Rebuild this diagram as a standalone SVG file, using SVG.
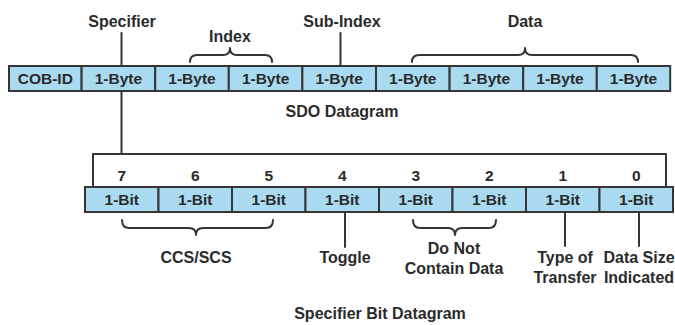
<svg xmlns="http://www.w3.org/2000/svg" width="675" height="325" viewBox="0 0 675 325">
  <style>
    .cell { fill: #a9daf0; stroke: #353535; stroke-width: 2; }
    .t { font-family: "Liberation Sans", Arial, sans-serif; font-weight: bold; font-size: 16px; fill: #2b2b2b; text-anchor: middle; }
    .c { font-size: 15.5px; }
    .ln { fill: none; stroke: #353535; stroke-width: 2; stroke-linecap: round; stroke-linejoin: round; }
  </style>
  <rect width="675" height="325" fill="#ffffff"/>

  <!-- SDO datagram: byte fields -->
  <g id="sdo-datagram">
    <g id="cob-id"><rect class="cell" x="9" y="66" width="72.6" height="25"/><text class="t c" x="45.3" y="84">COB-ID</text></g>
    <g id="byte-specifier"><rect class="cell" x="81.6" y="66" width="73.6" height="25"/><text class="t c" x="118.4" y="84">1-Byte</text></g>
    <g id="byte-index-1"><rect class="cell" x="155.2" y="66" width="73.6" height="25"/><text class="t c" x="192" y="84">1-Byte</text></g>
    <g id="byte-index-2"><rect class="cell" x="228.8" y="66" width="73.6" height="25"/><text class="t c" x="265.6" y="84">1-Byte</text></g>
    <g id="byte-subindex"><rect class="cell" x="302.4" y="66" width="73.6" height="25"/><text class="t c" x="339.2" y="84">1-Byte</text></g>
    <g id="byte-data-1"><rect class="cell" x="376" y="66" width="73.6" height="25"/><text class="t c" x="412.8" y="84">1-Byte</text></g>
    <g id="byte-data-2"><rect class="cell" x="449.6" y="66" width="73.6" height="25"/><text class="t c" x="486.4" y="84">1-Byte</text></g>
    <g id="byte-data-3"><rect class="cell" x="523.2" y="66" width="73.6" height="25"/><text class="t c" x="560" y="84">1-Byte</text></g>
    <g id="byte-data-4"><rect class="cell" x="596.8" y="66" width="73.4" height="25"/><text class="t c" x="633.5" y="84">1-Byte</text></g>
  </g>

  <!-- Specifier bit fields -->
  <g id="bit-datagram">
    <g id="bit-7"><rect class="cell" x="85" y="187" width="73.5" height="25"/><text class="t c" x="121.75" y="181">7</text><text class="t c" x="121.75" y="205">1-Bit</text></g>
    <g id="bit-6"><rect class="cell" x="158.5" y="187" width="73.5" height="25"/><text class="t c" x="195.25" y="181">6</text><text class="t c" x="195.25" y="205">1-Bit</text></g>
    <g id="bit-5"><rect class="cell" x="232" y="187" width="73.5" height="25"/><text class="t c" x="268.75" y="181">5</text><text class="t c" x="268.75" y="205">1-Bit</text></g>
    <g id="bit-4"><rect class="cell" x="305.5" y="187" width="73.5" height="25"/><text class="t c" x="342.25" y="181">4</text><text class="t c" x="342.25" y="205">1-Bit</text></g>
    <g id="bit-3"><rect class="cell" x="379" y="187" width="73.5" height="25"/><text class="t c" x="415.75" y="181">3</text><text class="t c" x="415.75" y="205">1-Bit</text></g>
    <g id="bit-2"><rect class="cell" x="452.5" y="187" width="73.5" height="25"/><text class="t c" x="489.25" y="181">2</text><text class="t c" x="489.25" y="205">1-Bit</text></g>
    <g id="bit-1"><rect class="cell" x="526" y="187" width="73.5" height="25"/><text class="t c" x="562.75" y="181">1</text><text class="t c" x="562.75" y="205">1-Bit</text></g>
    <g id="bit-0"><rect class="cell" x="599.5" y="187" width="73.5" height="25"/><text class="t c" x="636.25" y="181">0</text><text class="t c" x="636.25" y="205">1-Bit</text></g>
  </g>

  <!-- Leader lines, braces and frame -->
  <g id="connectors">
    <!-- Specifier leader above the byte, then on from its lower edge to the bit frame -->
    <path class="ln" d="M121.5 33 V66"/>
    <path class="ln" d="M121.5 91 V154"/>
    <path class="ln" d="M93 187 V154 H666 V187"/>
    <!-- Sub-Index leader -->
    <path class="ln" d="M340.5 33 V66"/>
    <!-- Index brace -->
    <path class="ln" d="M190 62 Q190 55 197 55 H223 Q230 55 230 48 Q230 55 237 55 H265 Q272 55 272 62"/>
    <!-- Data brace -->
    <path class="ln" d="M412 62 Q412 55 419 55 H518 Q525 55 525 48 Q525 55 532 55 H631 Q638 55 638 62"/>
    <!-- CCS/SCS brace -->
    <path class="ln" d="M122 220 Q122 228 129 228 H189 Q196 228 196 235 Q196 228 203 228 H266 Q273 228 273 220"/>
    <!-- Do Not Contain Data brace -->
    <path class="ln" d="M413 220 Q413 228 420 228 H448 Q455 228 455 235 Q455 228 462 228 H489 Q496 228 496 220"/>
    <!-- Toggle, Type of Transfer, Data Size leaders -->
    <path class="ln" d="M345 212 V247"/>
    <path class="ln" d="M565 212 V246"/>
    <path class="ln" d="M639 212 V246"/>
  </g>

  <!-- Labels -->
  <g id="labels">
    <text class="t" x="122" y="27">Specifier</text>
    <text class="t" x="230" y="42">Index</text>
    <text class="t" x="342" y="27">Sub-Index</text>
    <text class="t" x="525" y="27">Data</text>
    <text class="t" x="342" y="117">SDO Datagram</text>
    <text class="t" x="196" y="263">CCS/SCS</text>
    <text class="t" x="345" y="263">Toggle</text>
    <text class="t" x="454" y="254">Do Not</text>
    <text class="t" x="454" y="274">Contain Data</text>
    <text class="t" x="565" y="263">Type of</text>
    <text class="t" x="565" y="283">Transfer</text>
    <text class="t" x="639" y="263">Data Size</text>
    <text class="t" x="639" y="283">Indicated</text>
    <text class="t" x="380" y="319">Specifier Bit Datagram</text>
  </g>
</svg>
